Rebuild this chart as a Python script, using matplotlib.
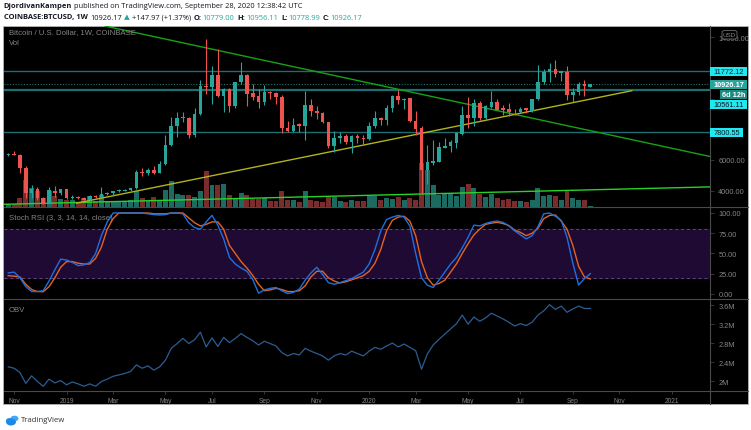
import numpy as np
import pandas as pd
import matplotlib
matplotlib.use("Agg")
import matplotlib.pyplot as plt
from matplotlib.patches import Rectangle, FancyBboxPatch, Ellipse
from matplotlib.lines import Line2D

W, H = 751, 431
plt.rcParams['font.family'] = ['Liberation Sans', 'DejaVu Sans']
HEAD = ['Open Sans', 'DejaVu Sans']

# ---------------- data (weekly bars, BTCUSD Coinbase) ----------------
start = "2018-10-29"          # first weekly bar on screen

opens = [6330, 6410, 6330, 5500, 3870, 4130, 3510, 3200, 4000, 3850,
         4090, 3500, 3570, 3510, 3390, 3660, 3590, 3780, 3880, 3960,
         4000, 4030, 4150, 5220, 5150, 5320, 5150, 5750, 6980, 8220,
         8730, 8750, 7620, 9000, 10830, 10760, 11530, 10180, 10620, 9530,
         11050, 11550, 10360, 10180, 9790, 10440, 10340, 10080, 8080, 7900,
         8360, 8230, 9580, 9200, 9040, 8490, 6890, 7410, 7540, 7150,
         7530, 7450, 7360, 8190, 8730, 8600, 9360, 10180, 9920, 10010,
         8550, 8060, 5340, 5800, 5890, 6760, 6890, 7100, 7690, 8930,
         8710, 9710, 8710, 9430, 9750, 9360, 9320, 9150, 9100, 9360,
         9210, 9970, 11050, 11700, 11920, 11660, 11750, 10250, 10400, 10940,
         10779.00]
highs = [6480, 6560, 6400, 5620, 4380, 4230, 3600, 4240, 4285, 4100,
         4130, 3700, 3660, 3600, 3700, 3720, 4220, 3920, 4000, 4100,
         4080, 4200, 5350, 5480, 5470, 5600, 5900, 7620, 8800, 9100,
         9100, 8800, 9380, 11200, 13880, 12100, 13220, 10700, 10700, 11100,
         12360, 11600, 10950, 10600, 10900, 10480, 10450, 10200, 8550, 8700,
         8420, 10510, 9950, 9480, 9150, 8500, 7860, 7800, 7720, 7600,
         7700, 7600, 8470, 9200, 8800, 9580, 10200, 10550, 10030, 10050,
         9200, 8180, 6970, 7320, 7200, 7460, 7300, 7800, 9480, 10120,
         9950, 9850, 9600, 10470, 10000, 9550, 9700, 9330, 9450, 9400,
         9970, 12180, 11900, 12300, 12500, 11800, 12140, 10700, 11100, 11180,
         10956.11]
lows = [6250, 6300, 5130, 3520, 3500, 3380, 3150, 3180, 3570, 3700,
        3450, 3470, 3480, 3370, 3360, 3520, 3580, 3700, 3750, 3900,
        3950, 3950, 4100, 4950, 5050, 5100, 5120, 5700, 6900, 7500,
        8500, 7450, 7520, 8950, 10300, 9640, 10100, 9110, 9130, 9400,
        10940, 9490, 9900, 9350, 9600, 9950, 9620, 7750, 7800, 7800,
        7850, 7320, 8850, 8650, 8420, 6750, 6540, 7120, 7050, 6450,
        7100, 7050, 7300, 8080, 8250, 8270, 9100, 9650, 9300, 8450,
        7650, 3850, 4430, 5700, 5850, 6750, 6500, 6800, 7600, 8100,
        8200, 8600, 8650, 9380, 9220, 8950, 8850, 8920, 9050, 9050,
        9150, 9900, 10950, 11100, 11400, 11150, 9900, 9800, 10200, 10140,
        10778.99]
closes = [6410, 6330, 5500, 3870, 4130, 3510, 3200, 4040, 3850, 4090,
          3500, 3570, 3510, 3390, 3660, 3600, 3780, 3880, 3960, 4040,
          4030, 4150, 5220, 5150, 5320, 5150, 5750, 6980, 8220, 8730,
          8750, 7620, 9000, 10830, 10760, 11530, 10180, 10620, 9530, 11050,
          11550, 10290, 10120, 9790, 10440, 10370, 10080, 8060, 7900, 8300,
          8230, 9580, 9200, 9040, 8490, 6890, 7410, 7540, 7150, 7530,
          7410, 7360, 8230, 8730, 8600, 9360, 10180, 9920, 9960, 8510,
          8010, 5340, 5850, 5900, 6830, 6930, 7150, 7750, 8930, 8710,
          9710, 8710, 9490, 9790, 9270, 9270, 9100, 9100, 9320, 9270,
          9970, 11100, 11700, 11920, 11600, 11790, 10250, 10400, 10940, 10800,
          10926.17]
volume_k = [19, 19, 55, 161, 115, 95, 55, 99, 65, 51,
            45, 41, 29, 55, 65, 35, 75, 35, 35, 39,
            35, 45, 95, 55, 39, 63, 45, 105, 159, 81,
            75, 71, 59, 99, 215, 135, 135, 141, 75, 57,
            87, 75, 51, 51, 57, 35, 35, 95, 41, 41,
            31, 99, 45, 35, 29, 59, 59, 39, 31, 41,
            35, 35, 65, 65, 45, 55, 51, 61, 45, 57,
            45, 267, 225, 135, 75, 87, 87, 69, 119, 139,
            115, 79, 59, 81, 55, 45, 49, 35, 35, 31,
            45, 115, 69, 75, 69, 45, 95, 55, 45, 41,
            5]
stoch_k = [26, 27, 20, 9, 3, 3, 4, 16, 30, 43,
           42, 39, 35, 36, 39, 50, 72, 89, 100, 100,
           100, 100, 100, 100, 99, 98, 97.5, 98, 100, 100,
           99, 88, 82, 80, 89, 97, 85, 68, 45, 37,
           32, 28, 18, 1, 5, 7, 8, 4, 0.5, 2,
           6, 17, 26, 33, 24, 14, 12, 14, 16.5, 19,
           23, 27, 37, 55, 78, 92, 95, 97, 95, 84,
           50, 20, 11, 8, 17, 27, 37, 45, 57, 70,
           85, 84, 87, 89, 90, 88.5, 84, 78, 73, 68,
           72, 83, 99, 100, 96, 91, 70, 38, 11, 19,
           25]
stoch_d = [22.6, 22, 21, 12, 5.5, 3, 2.8, 9, 20, 33,
           40, 40, 38, 37, 37, 44, 58, 80, 93, 100,
           100, 100, 100, 100, 100, 99, 99, 99, 100, 100,
           100, 94, 88, 84, 86, 89, 89, 80, 60, 50,
           40, 32, 23, 12, 4, 5, 7, 5.5, 3, 3,
           4, 10, 21, 28, 28, 20, 16, 13.6, 15, 17.5,
           20, 22.6, 28, 38, 55, 78, 91, 95, 96, 90,
           72, 40, 20, 11, 13, 17, 27, 37, 50, 62,
           73, 80, 86, 87.5, 88.5, 87, 84.5, 79, 76, 72,
           75, 81, 93, 97, 97.5, 90, 80, 60, 34, 21,
           18.5]
obv_m = [2.30, 2.27, 2.18, 1.95, 2.11, 1.99, 1.89, 2.04, 1.96, 2.01,
         1.92, 1.98, 1.94, 1.89, 1.94, 1.89, 1.99, 2.04, 2.10, 2.13,
         2.16, 2.20, 2.34, 2.27, 2.32, 2.23, 2.30, 2.44, 2.69, 2.79,
         2.90, 2.79, 2.87, 3.03, 2.72, 2.91, 2.73, 2.92, 2.81, 2.90,
         3.00, 2.92, 2.85, 2.76, 2.84, 2.79, 2.74, 2.60, 2.53, 2.58,
         2.55, 2.69, 2.63, 2.58, 2.53, 2.44, 2.53, 2.58, 2.55, 2.63,
         2.58, 2.53, 2.63, 2.71, 2.67, 2.74, 2.80, 2.72, 2.78, 2.71,
         2.64, 2.25, 2.57, 2.76, 2.88, 2.99, 3.10, 3.21, 3.39, 3.20,
         3.35, 3.26, 3.33, 3.43, 3.37, 3.31, 3.24, 3.16, 3.21, 3.17,
         3.24, 3.39, 3.48, 3.61, 3.51, 3.58, 3.45, 3.52, 3.58, 3.53,
         3.53]

levels = [11772.12, 10561.11, 7800.55]
last_price = 10926.17
# user trend lines: (date, price) anchors
green_down = [("2019-04-17", 14090), ("2021-02-19", 6225)]
yellow_up = [("2019-01-19", 3184), ("2020-11-17", 10508)]
green_flat = [("2018-10-29", 3120), ("2020-09-28", 4054)]

price_ticks = [4000, 6000, 8000, 10000, 12000, 14000]
price_labels = ["4000.00", "6000.00", "", "", "", "14000.00"]   # middle ones sit under the price tags
rsi_ticks = [0, 25, 50, 75, 100]
obv_ticks = [2.0, 2.4, 2.8, 3.2, 3.6]
obv_labels = ["2M", "2.4M", "2.8M", "3.2M", "3.6M"]

# ---------------- colours ----------------
UP, DN = '#26a69a', '#ef5350'
GRID = '#4a4a4a'
TXT = '#858585'
DARK = '#131722'

t0 = pd.Timestamp(start)
def widx(d):
    return (pd.Timestamp(d) - t0).days / 7.0

o = np.array(opens); hi = np.array(highs); lo = np.array(lows); c = np.array(closes)
xs = np.arange(len(c))
up = c >= o

fig = plt.figure(figsize=(W / 100, H / 100), dpi=100)
fig.patch.set_facecolor('white')

def frect(x0, y0, x1, y1):
    return [x0 / W, 1 - y1 / H, (x1 - x0) / W, (y1 - y0) / H]

fig.patches.append(Rectangle((3 / W, 1 - 405 / H), 745 / W, 378 / H, transform=fig.transFigure,
                             facecolor='black', edgecolor='#bdbdbd', lw=0.5, zorder=-1))

ax_vol = fig.add_axes(frect(4, 27, 710, 208))
ax_p = fig.add_axes(frect(4, 27, 710, 208), sharex=ax_vol)
ax_rsi = fig.add_axes(frect(4, 208, 710, 300), sharex=ax_vol)
ax_obv = fig.add_axes(frect(4, 300, 710, 392), sharex=ax_vol)

for a in (ax_vol, ax_p, ax_rsi, ax_obv):
    a.set_facecolor('none')
    for s in a.spines.values():
        s.set_visible(False)
    a.tick_params(axis='x', which='both', bottom=False, labelbottom=False)

ax_vol.set_xlim(-0.74, 120.57)

# volume overlay
ax_vol.bar(xs, volume_k, width=0.85, color=np.where(up, '#1c6b63', '#7a2b2b'), zorder=1)
ax_vol.set_ylim(0, max(volume_k) * 181 / 44.5)
ax_vol.set_yticks([])

# price
ax_p.set_ylim(2937, 14720)
for lv in levels:
    ax_p.axhline(lv, color='#1d6e70', lw=1.6 if lv == 10561.11 else 1.0, zorder=1)
ax_p.axhline(last_price, color=UP, lw=0.8, ls=(0, (1, 1.5)), alpha=0.7, zorder=1)
ax_p.axline((widx(green_down[0][0]), green_down[0][1]), (widx(green_down[1][0]), green_down[1][1]),
            color='#15a315', lw=1.0, zorder=2)
ax_p.axline((widx(green_flat[0][0]), green_flat[0][1]), (widx(green_flat[1][0]), green_flat[1][1]),
            color='#27d327', lw=1.0, zorder=2)
ax_p.plot([widx(d) for d, _ in yellow_up], [p for _, p in yellow_up], color='#b3b31a', lw=1.0, zorder=2)

cols = np.where(up, UP, DN)
ax_p.vlines(xs, lo, hi, colors=cols, lw=0.8, zorder=3)
body = np.maximum(np.abs(c - o), 45)
ax_p.bar(xs, body, bottom=np.minimum(o, c), width=0.62, color=cols, zorder=4)

ax_p.yaxis.tick_right()
ax_p.set_yticks(price_ticks)
ax_p.set_yticklabels(price_labels)

# stoch rsi
ax_rsi.set_ylim(-6.2, 107.4)
ax_rsi.axhspan(20, 80, color='#1f0a33', zorder=0)
for lv in (20, 80):
    ax_rsi.axhline(lv, color='#5e4b74', lw=0.7, ls=(0, (3, 3)), zorder=1)
ax_rsi.plot(xs, stoch_k, color='#1f6fe0', lw=1.0, zorder=3)
ax_rsi.plot(xs, stoch_d, color='#e3631f', lw=1.0, zorder=2)
ax_rsi.yaxis.tick_right()
ax_rsi.set_yticks(rsi_ticks)
ax_rsi.set_yticklabels([f"{v:.2f}" for v in rsi_ticks])

# obv
ax_obv.set_ylim(1.79, 3.73)
ax_obv.plot(xs, obv_m, color='#2c5d93', lw=0.9)
ax_obv.yaxis.tick_right()
ax_obv.set_yticks(obv_ticks)
ax_obv.set_yticklabels(obv_labels)

for a in (ax_p, ax_rsi, ax_obv):
    a.tick_params(axis='y', which='both', length=3, width=0.5, color=GRID, pad=3,
                  labelsize=5.3, labelcolor=TXT)

# time axis
months = pd.date_range("2018-11-01", "2021-01-01", freq="2MS")
tpos = [widx(d + pd.Timedelta(days=(7 - d.weekday()) % 7)) for d in months]
tlab = [str(d.year) if d.month == 1 else d.strftime("%b") for d in months]
ax_obv.set_xticks(tpos)
ax_obv.set_xticklabels(tlab)
ax_obv.tick_params(axis='x', bottom=True, labelbottom=True, length=2, width=0.5, color=GRID,
                   pad=2.5, labelsize=4.8, labelcolor=TXT)

# separators
for yy in (208, 300, 392):
    fig.add_artist(Line2D([4 / W, 748 / W], [1 - yy / H] * 2, color=GRID, lw=0.8))
fig.add_artist(Line2D([710 / W] * 2, [1 - 405 / H, 1 - 27 / H], color=GRID, lw=0.8))

# pane titles
fig.text(9 / W, 1 - 33 / H, "Bitcoin / U.S. Dollar, 1W, COINBASE", color=TXT, fontsize=5.6, va='center')
fig.text(9 / W, 1 - 44 / H, "Vol", color=TXT, fontsize=5.6, va='center')
fig.text(9 / W, 1 - 219 / H, "Stoch RSI (3, 3, 14, 14, close)", color=TXT, fontsize=5.6, va='center')
fig.text(9 / W, 1 - 311 / H, "OBV", color=TXT, fontsize=5.6, va='center')

# price tags on the right scale
def price_y(p):
    return ax_p.transData.transform((0, p))[1]

def tag(ypix, text, bg, fg, x0=710, x1=747, h=9, weight='normal'):
    fig.patches.append(Rectangle((x0 / W, (ypix - h / 2) / H), (x1 - x0) / W, h / H,
                                 transform=fig.transFigure, facecolor=bg, edgecolor='none', zorder=5))
    fig.text((x0 + x1) / 2 / W, ypix / H, text, color=fg, fontsize=5.3, ha='center', va='center',
             zorder=6, fontweight=weight)

tag(price_y(levels[0]), f"{levels[0]:.2f}", '#1ee8f0', DARK)
y_last = price_y(last_price)
tag(y_last, f"{last_price:.2f}", UP, 'white', weight='bold')
tag(y_last - 10.5, "6d 12h", '#1f8a80', 'white', x0=720, weight='bold')
tag(y_last - 20, f"{levels[1]:.2f}", '#1ee8f0', DARK)
tag(price_y(levels[2]), f"{levels[2]:.2f}", '#1ee8f0', DARK, x1=743)

# currency box
fig.patches.append(FancyBboxPatch((722 / W, 1 - 40 / H), 15 / W, 8.5 / H, boxstyle="round,pad=0,rounding_size=0.004",
                                  transform=fig.transFigure, facecolor='black', edgecolor='#6a6a6a', lw=0.6, zorder=5))
fig.text(729.5 / W, 1 - 35.7 / H, "USD", color=TXT, fontsize=4.5, ha='center', va='center', zorder=6)

# header
def chain(x, y, parts, size=5.4):
    r = fig.canvas.get_renderer()
    for s, col, bold, gap in parts:
        t = fig.text(x / W, 1 - y / H, s, fontsize=size, color=col, family=HEAD,
                     fontweight='bold' if bold else 'normal', va='center')
        x += t.get_window_extent(r).width + gap

chain(3.5, 7, [("DjordivanKampen", DARK, True, 2.5),
               ("published on TradingView.com, September 28, 2020 12:38:42 UTC", DARK, False, 0)])
chain(3.5, 18, [("COINBASE:BTCUSD, 1W", DARK, True, 3),
                ("10926.17", DARK, False, 2),
                ("▲", UP, False, 2),
                ("+147.97 (+1.37%)", DARK, False, 3),
                ("O:", DARK, True, 0.8), ("10779.00", UP, False, 3),
                ("H:", DARK, True, 0.8), ("10956.11", UP, False, 3),
                ("L:", DARK, True, 0.8), ("10778.99", UP, False, 3),
                ("C:", DARK, True, 0.8), ("10926.17", UP, False, 0)])

# footer logo
for cx, cy, rw, col in [(9.5, 421.5, 7, '#2196f3'), (14.5, 419.5, 8, '#42a5f5'), (11, 423, 10, '#1e88e5')]:
    fig.patches.append(Ellipse((cx / W, 1 - cy / H), rw / W, (rw * 0.7) / H, transform=fig.transFigure,
                               facecolor=col, edgecolor='none'))
fig.text(21 / W, 1 - 420.5 / H, "TradingView", color='#333333', fontsize=5.6, family=HEAD, va='center')

fig.savefig("out.png", dpi=100, facecolor='white')
